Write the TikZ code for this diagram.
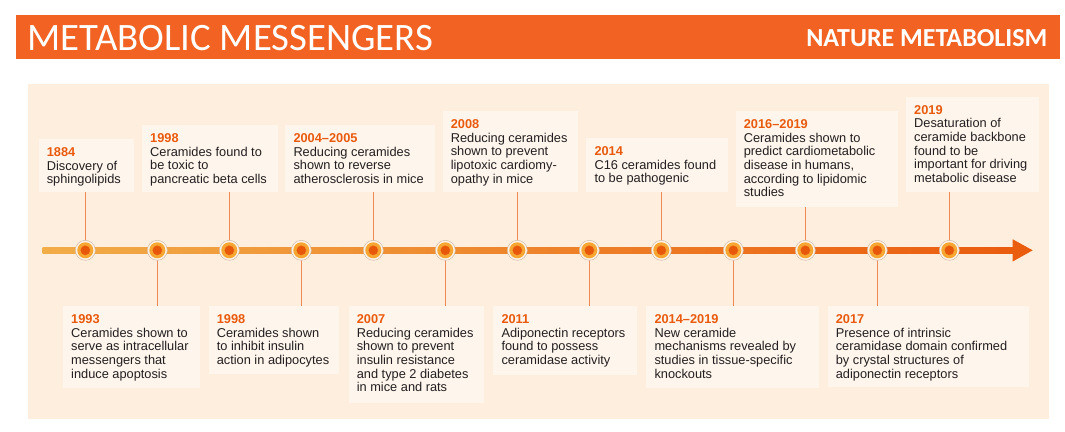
\documentclass[tikz,border=0pt]{standalone}
\usepackage{fontspec}
\setmainfont{Liberation Sans}
\newfontfamily\headfont{Carlito}
\usetikzlibrary{arrows.meta}
\definecolor{hdr}{RGB}{242,98,34}
\definecolor{panel}{RGB}{253,238,222}
\definecolor{boxc}{RGB}{254,246,237}
\definecolor{yrc}{RGB}{234,90,12}
\definecolor{bodyc}{RGB}{35,31,32}
\definecolor{connc}{RGB}{240,138,88}
\definecolor{lineL}{RGB}{242,172,72}
\definecolor{lineR}{RGB}{234,92,14}
\definecolor{ringc}{RGB}{255,242,228}
\definecolor{ringd}{RGB}{205,188,172}
\definecolor{midor}{RGB}{248,166,50}
\definecolor{dotor}{RGB}{232,88,10}
\newcommand\yr[1]{\rule{0pt}{10pt}{\bfseries\color{yrc}#1}}
\newcommand\myitem[6]{%
  \node[evbox, minimum width=#4pt, minimum height=#5pt] (#1) at (#2,#3) {};
  \node[evtxt] (#1t) at ([xshift=8.3pt, yshift=-7.2pt]#1.north west) {#6};
}
\begin{document}
\begin{tikzpicture}[x=1pt,y=-1pt,
  evbox/.style={anchor=north west, rectangle, fill=boxc, inner sep=0},
  evtxt/.style={anchor=north west, align=left, inner sep=0, text=bodyc,
    font=\fontsize{12.8}{13.7}\selectfont},
  conn/.style={draw=connc, line width=1.1pt},
  dotnode/.style={circle, minimum size=20pt, inner sep=0, fill=ringc, draw=ringd, line width=0.5pt,
    path picture={\fill[midor] (path picture bounding box.center) circle (8pt);
                  \fill[dotor] (path picture bounding box.center) circle (4.8pt);}}
]
\useasboundingbox (0,0) rectangle (1065,431);
% header
\fill[hdr] (16,15) rectangle (1060,59.3);
\node[anchor=base west, inner sep=0, text=white, font=\headfont\fontsize{38.8}{40}\selectfont] (title) at (27,50) {METABOLIC MESSENGERS};
\node[anchor=base east, inner sep=0, text=white, font=\headfont\bfseries\fontsize{26}{26}\selectfont] (journal) at (1047.5,46.8) {NATURE METABOLISM};
% panel
\fill[panel] (28,84) rectangle (1048.7,418.7);
% top boxes
\myitem{t1}{38.3}{139}{95.4}{53}{\yr{1884}\\Discovery of\\sphingolipids}
\myitem{t2}{141.7}{125}{135.6}{67}{\yr{1998}\\Ceramides found to\\be toxic to\\pancreatic beta cells}
\myitem{t3}{285}{125}{149.3}{67}{\yr{2004--2005}\\Reducing ceramides\\shown to reverse\\atherosclerosis in mice}
\myitem{t4}{442.3}{111}{135.4}{81}{\yr{2008}\\Reducing ceramides\\shown to prevent\\lipotoxic cardiomy-\\opathy in mice}
\myitem{t5}{586}{138}{141.3}{54}{\yr{2014}\\C16 ceramides found\\to be pathogenic}
\myitem{t6}{735.3}{111}{162.4}{95.3}{\yr{2016--2019}\\Ceramides shown to\\predict cardiometabolic\\disease in humans,\\according to lipidomic\\studies}
\myitem{t7}{905.7}{96.7}{133}{95.3}{\yr{2019}\\Desaturation of\\ceramide backbone\\found to be\\important for driving\\metabolic disease}
% bottom boxes
\myitem{b1}{62.7}{306}{136.6}{81.7}{\yr{1993}\\Ceramides shown to\\serve as intracellular\\messengers that\\induce apoptosis}
\myitem{b2}{208.3}{306}{130.7}{68}{\yr{1998}\\Ceramides shown\\to inhibit insulin\\action in adipocytes}
\myitem{b3}{348.3}{306}{135}{96.3}{\yr{2007}\\Reducing ceramides\\shown to prevent\\insulin resistance\\and type 2 diabetes\\in mice and rats}
\myitem{b4}{493}{306}{143.7}{68.3}{\yr{2011}\\Adiponectin receptors\\found to possess\\ceramidase activity}
\myitem{b5}{646}{306}{172.7}{81.7}{\yr{2014--2019}\\New ceramide\\mechanisms revealed by\\studies in tissue-specific\\knockouts}
\myitem{b6}{827.3}{306}{201}{81}{\yr{2017}\\Presence of intrinsic\\ceramidase domain confirmed\\by crystal structures of\\adiponectin receptors}
% circle positions
\foreach \i in {0,...,12} {\coordinate (p\i) at ({85.3+72*\i},250.3);}
% connectors
\draw[conn] (p0) -- (p0 |- t1.south);
\draw[conn] (p1) -- (p1 |- b1.north);
\draw[conn] (p2) -- (p2 |- t2.south);
\draw[conn] (p3) -- (p3 |- b2.north);
\draw[conn] (p4) -- (p4 |- t3.south);
\draw[conn] (p5) -- (p5 |- b3.north);
\draw[conn] (p6) -- (p6 |- t4.south);
\draw[conn] (p7) -- (p7 |- b4.north);
\draw[conn] (p8) -- (p8 |- t5.south);
\draw[conn] (p9) -- (p9 |- b5.north);
\draw[conn] (p10) -- (p10 |- t6.south);
\draw[conn] (p11) -- (p11 |- b6.north);
\draw[conn] (p12) -- (p12 |- t7.south);
% timeline
\coordinate (ls) at (42.7,250.3);
\coordinate (le) at (1013.5,250.3);
\coordinate (tip) at (1032.7,250.3);
\shade[left color=lineL, right color=lineR] ([yshift=2.7pt]ls) rectangle ([yshift=-2.7pt]le);
\fill[lineR] (1012.7,239.3) -- (tip) -- (1012.7,261.5) -- cycle;
% circles
\foreach \i in {0,...,12} {\node[dotnode] (c\i) at (p\i) {};}
\end{tikzpicture}
\end{document}
